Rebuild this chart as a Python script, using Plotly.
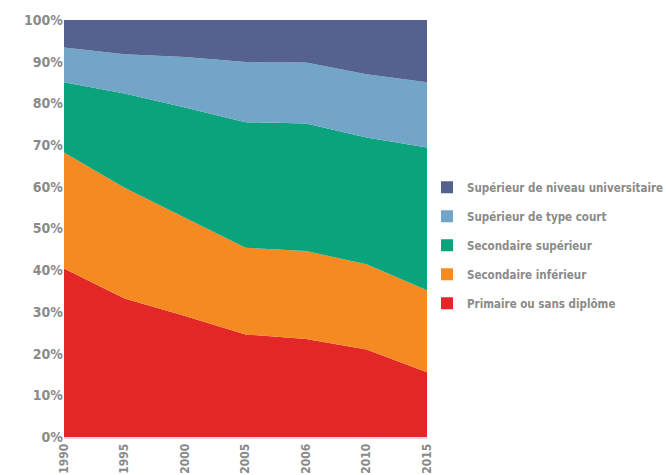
import plotly.graph_objects as go

years = ["1990", "1995", "2000", "2005", "2006", "2010", "2015"]
primaire = [40.4, 33.2, 29.0, 24.6, 23.5, 21.0, 15.5]
sec_inf = [27.8, 26.6, 23.6, 20.8, 21.1, 20.4, 19.7]
sec_sup = [16.9, 22.6, 26.4, 30.1, 30.6, 30.4, 34.2]
sup_court = [8.3, 9.4, 12.1, 14.4, 14.6, 15.2, 15.7]
sup_univ = [6.6, 8.2, 8.9, 10.1, 10.2, 13.0, 14.9]

names = ["Primaire ou sans diplôme", "Secondaire inférieur", "Secondaire supérieur",
         "Supérieur de type court", "Supérieur de niveau universitaire"]
series = [primaire, sec_inf, sec_sup, sup_court, sup_univ]
colors = ["#e32628", "#f48a21", "#0aa37c", "#72a5c8", "#55618f"]

FONT = "DejaVu Sans Condensed, Liberation Sans Narrow, sans-serif"
GRAY = "#8a8a8a"

fig = go.Figure()
for name, vals, col in zip(names, series, colors):
    fig.add_trace(go.Scatter(
        x=years, y=vals, name=name, mode="lines", stackgroup="one",
        groupnorm="percent", line=dict(width=0, color=col), fillcolor=col,
        showlegend=False, hoverinfo="x+y+name"))
for name, col in reversed(list(zip(names, colors))):
    fig.add_trace(go.Scatter(
        x=[None], y=[None], name=name, mode="markers", legendgroup=name,
        marker=dict(symbol="square", size=11, color=col)))

fig.update_layout(
    width=666, height=475,
    margin=dict(l=64, r=239, t=20, b=38, autoexpand=False),
    paper_bgcolor="white", plot_bgcolor="white",
    font=dict(family=FONT, color=GRAY, size=11.5),
    legend=dict(x=1.0, y=0.46, xanchor="left", yanchor="middle",
                traceorder="grouped", tracegroupgap=10,
                font=dict(family=FONT, color=GRAY, size=11.5, weight="bold"),
                itemsizing="constant", itemwidth=30),
    xaxis=dict(type="category", range=[0, 6], showgrid=False, tickangle=-90,
               showline=True, linecolor="#d9d9d9", linewidth=2, automargin=False,
               ticks="", tickfont=dict(family=FONT, color=GRAY, size=12, weight="bold")),
    yaxis=dict(range=[0, 100], dtick=10, ticksuffix="%", showgrid=False,
               zeroline=False, showline=False, ticks="", automargin=False,
               tickfont=dict(family=FONT, color=GRAY, size=14, weight="bold")),
)
fig.write_html(
    "out.html",
    config={"displayModeBar": False},
    post_script="document.body.style.margin='0';document.body.style.overflow='hidden';",
)
